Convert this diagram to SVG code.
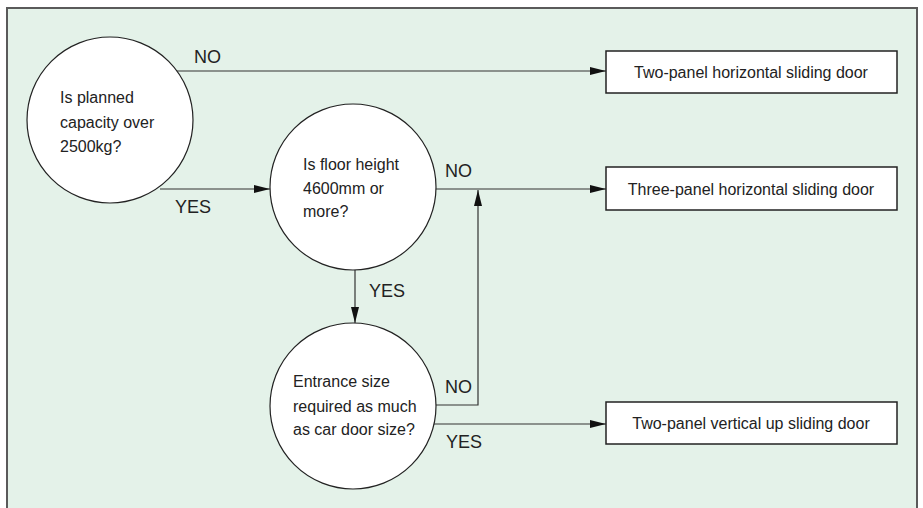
<svg xmlns="http://www.w3.org/2000/svg" width="923" height="508" viewBox="0 0 923 508">
<defs>
<style>
.bg{fill:#e4f2e9;stroke:#5a5a5a;stroke-width:2}
.node circle{fill:#fff;stroke:#222;stroke-width:1.2}
.node rect{fill:#fff;stroke:#222;stroke-width:1.5}
text{font-family:"Liberation Sans",Arial,sans-serif;fill:#222}
.q{font-size:16px}
.b{font-size:16px;text-anchor:middle}
.l{font-size:18px}
.c{fill:none;stroke:#333;stroke-width:1.2}
</style>
<marker id="ah" markerWidth="16" markerHeight="8" refX="16" refY="4" orient="auto" markerUnits="userSpaceOnUse">
<path d="M0,0 L16,4 L0,8 Z" fill="#111"/>
</marker>
</defs>
<rect width="923" height="508" fill="#fff"/>
<rect class="bg" x="7" y="8" width="910" height="510"/>
<g id="connectors">
<line class="c" x1="175" y1="71" x2="606" y2="71" marker-end="url(#ah)"/>
<line class="c" x1="160" y1="189" x2="270" y2="189" marker-end="url(#ah)"/>
<line class="c" x1="436" y1="189" x2="606" y2="189" marker-end="url(#ah)"/>
<line class="c" x1="355" y1="270" x2="355" y2="323" marker-end="url(#ah)"/>
<polyline class="c" points="436,405 478,405 478,190" marker-end="url(#ah)"/>
<line class="c" x1="432" y1="424" x2="606" y2="424" marker-end="url(#ah)"/>
</g>
<g id="labels">
<text class="l" x="194" y="63">NO</text>
<text class="l" x="175" y="213">YES</text>
<text class="l" x="445" y="177">NO</text>
<text class="l" x="369" y="297">YES</text>
<text class="l" x="445" y="393">NO</text>
<text class="l" x="446" y="448">YES</text>
</g>
<g id="q1" class="node">
<circle cx="110" cy="120" r="83"/>
<text class="q" x="60" y="103">Is planned</text>
<text class="q" x="60" y="128">capacity over</text>
<text class="q" x="60" y="152">2500kg?</text>
</g>
<g id="q2" class="node">
<circle cx="353" cy="187" r="83"/>
<text class="q" x="303" y="170">Is floor height</text>
<text class="q" x="303" y="194">4600mm or</text>
<text class="q" x="303" y="217">more?</text>
</g>
<g id="q3" class="node">
<circle cx="353" cy="406" r="83"/>
<text class="q" x="293" y="387">Entrance size</text>
<text class="q" x="293" y="412">required as much</text>
<text class="q" x="293" y="435">as car door size?</text>
</g>
<g id="r1" class="node">
<rect x="606" y="51" width="291" height="42"/>
<text class="b" x="751" y="78">Two-panel horizontal sliding door</text>
</g>
<g id="r2" class="node">
<rect x="606" y="167" width="291" height="43"/>
<text class="b" x="751" y="195">Three-panel horizontal sliding door</text>
</g>
<g id="r3" class="node">
<rect x="606" y="402" width="291" height="42"/>
<text class="b" x="751" y="429">Two-panel vertical up sliding door</text>
</g>
</svg>
